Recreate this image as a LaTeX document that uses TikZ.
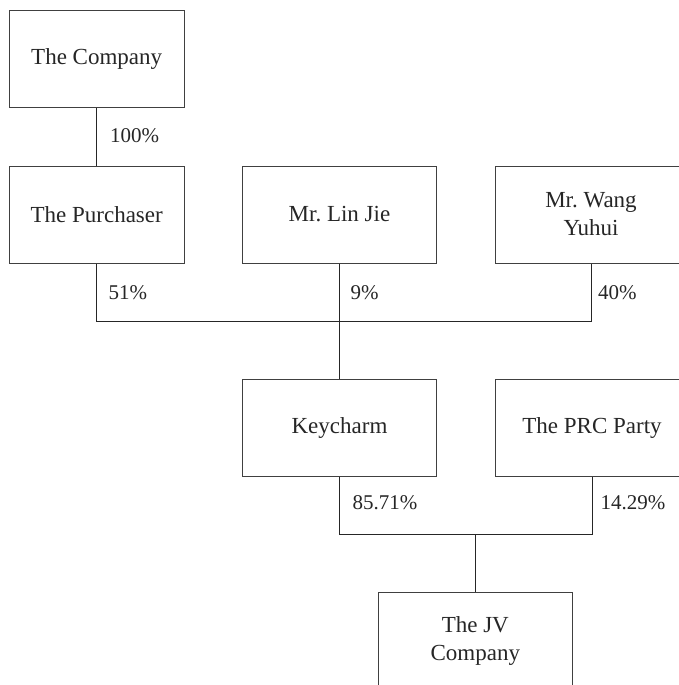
\documentclass[tikz,border=0pt]{standalone}
\usepackage{fontspec}
\setmainfont{Liberation Serif}
\frenchspacing
\begin{document}
\begin{tikzpicture}[x=1pt,y=-1pt,
  box/.style={draw=black!75, line width=1pt, align=center, text=black!85,
    font=\fontsize{23}{28}\selectfont\frenchspacing, inner sep=0pt, minimum height=97pt},
  link/.style={draw=black!85, line width=1pt},
  pct/.style={anchor=west, inner sep=0pt, text=black!85, font=\fontsize{21}{25}\selectfont}]
\useasboundingbox (0,0) rectangle (679,685);
\clip (0,0) rectangle (679,685);
\node[box, minimum width=175pt] (company) at (96.7,59) {The Company};
\node[box, minimum width=175pt] (purchaser) at (96.7,214.5) {The Purchaser};
\node[box, minimum width=194.4pt] (lin) at (339.5,214.5) {Mr.\ Lin Jie};
\node[box, minimum width=192pt] (wang) at (591,214.5) {Mr.\ Wang\\Yuhui};
\node[box, minimum width=194.4pt] (keycharm) at (339.5,428) {Keycharm};
\node[box, minimum width=194pt] (prc) at (592,428) {The PRC Party};
\node[box, minimum width=194pt] (jv) at (475.3,641.2) {The JV\\Company};
\coordinate (busL) at (purchaser.south |- 0,321.3);
\coordinate (busR) at (wang.south |- 0,321.3);
\coordinate (lowL) at (keycharm.south |- 0,534.3);
\coordinate (lowR) at (prc.south |- 0,534.3);
\coordinate (lowM) at (jv.north |- 0,534.3);
\draw[link] (company.south) -- (purchaser.north);
\draw[link] (purchaser.south) -- (busL) -- (busR) -- (wang.south);
\draw[link] (lin.south) -- (keycharm.north);
\draw[link] (keycharm.south) -- (lowL) -- (lowR) -- (prc.south);
\draw[link] (lowM) -- (jv.north);
\node[pct] (p100) at (110,136) {100\%};
\node[pct] (p51) at (108.5,293) {51\%};
\node[pct] (p9) at (350.5,293) {9\%};
\node[pct] (p40) at (598,293) {40\%};
\node[pct] (p8571) at (352.5,503) {85.71\%};
\node[pct] (p1429) at (600.5,503) {14.29\%};
\end{tikzpicture}
\end{document}
